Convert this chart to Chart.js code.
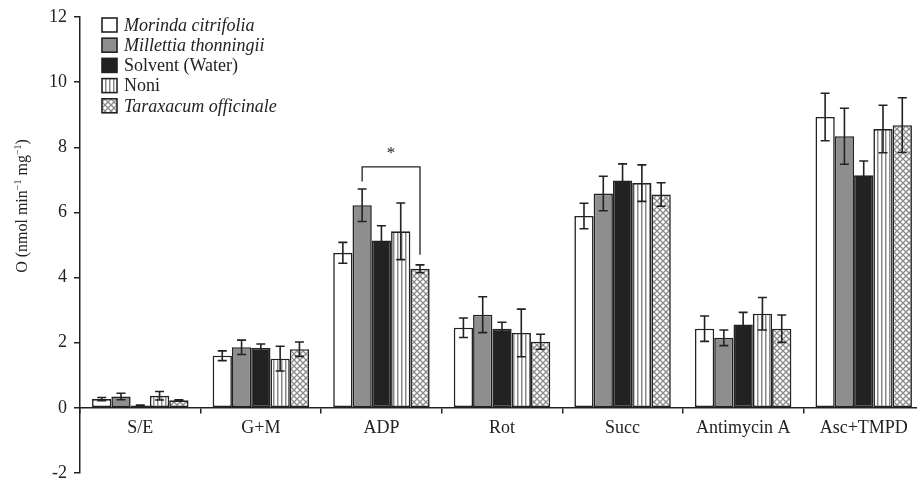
<!DOCTYPE html>
<html>
<head>
<meta charset="utf-8">
<script src="https://cdn.jsdelivr.net/npm/chart.js@4/dist/chart.umd.min.js"></script>
<style>
  html, body { margin: 0; padding: 0; background: #fff; overflow: hidden; }
  #wrap { width: 917px; height: 480px; overflow: hidden; }
</style>
</head>
<body>
<div id="wrap"><canvas id="oxChart" width="924" height="480"></canvas></div>
<script>
// categories and series (O2 consumption, nmol min-1 mg-1)
const categories = ['S/E', 'G+M', 'ADP', 'Rot', 'Succ', 'Antimycin A', 'Asc+TMPD']
const seriesNames = ['Morinda citrifolia', 'Millettia thonningii', 'Solvent (Water)', 'Noni', 'Taraxacum officinale']
const italicNames = [true, true, false, false, true]

const morinda   = [0.27, 1.60, 4.76, 2.46, 5.89, 2.43, 8.93]
const millettia = [0.35, 1.86, 6.22, 2.86, 6.58, 2.15, 8.34]
const solvent   = [0.07, 1.84, 5.14, 2.43, 6.98, 2.56, 7.14]
const noni      = [0.37, 1.51, 5.42, 2.30, 6.90, 2.89, 8.56]
const taraxacum = [0.23, 1.80, 4.27, 2.03, 6.55, 2.43, 8.68]

// error (+/-)
const morindaErr   = [0.05, 0.15, 0.32, 0.30, 0.39, 0.39, 0.73]
const millettiaErr = [0.10, 0.22, 0.50, 0.55, 0.53, 0.24, 0.86]
const solventErr   = [0.02, 0.12, 0.45, 0.20, 0.51, 0.37, 0.44]
const noniErr      = [0.13, 0.38, 0.87, 0.73, 0.56, 0.50, 0.73]
const taraxacumErr = [0.02, 0.22, 0.12, 0.23, 0.36, 0.42, 0.84]

const yTicks = [-2, 0, 2, 4, 6, 8, 10, 12]

// significance bracket on ADP between Millettia and Taraxacum
const bracket = { category: 2, from: 1, to: 4, top: 7.4, leftEnd: 6.95, rightEnd: 4.7, label: '*' }

const ink = '#222'
const serif = '"Liberation Serif", "Times New Roman", serif'

function stripePattern() {
  const c = document.createElement('canvas')
  c.width = 4; c.height = 4
  const g = c.getContext('2d')
  g.fillStyle = '#fff'; g.fillRect(0, 0, 4, 4)
  g.fillStyle = '#8a8a8a'; g.fillRect(1, 0, 1.5, 4)
  return g.createPattern(c, 'repeat')
}

function hatchPattern() {
  const s = 6
  const c = document.createElement('canvas')
  c.width = s; c.height = s
  const g = c.getContext('2d')
  g.fillStyle = '#fff'; g.fillRect(0, 0, s, s)
  g.strokeStyle = '#8a8a8a'; g.lineWidth = 1.3
  g.beginPath()
  g.moveTo(0, 0); g.lineTo(s, s)
  g.moveTo(s, 0); g.lineTo(0, s)
  g.stroke()
  return g.createPattern(c, 'repeat')
}

const fills = ['#ffffff', '#8e8e8e', '#222222', stripePattern(), hatchPattern()]
const values = [morinda, millettia, solvent, noni, taraxacum]
const errors = [morindaErr, millettiaErr, solventErr, noniErr, taraxacumErr]

const errorBars = {
  id: 'errorBars',
  afterDatasetsDraw(chart) {
    const ctx = chart.ctx
    const y = chart.scales.y
    ctx.save()
    ctx.strokeStyle = ink
    ctx.lineWidth = 1.6
    chart.data.datasets.forEach((ds, i) => {
      const meta = chart.getDatasetMeta(i)
      meta.data.forEach((bar, j) => {
        const v = ds.data[j], e = errors[i][j]
        const top = y.getPixelForValue(v + e)
        const bot = y.getPixelForValue(v - e)
        ctx.beginPath()
        ctx.moveTo(bar.x, top); ctx.lineTo(bar.x, bot)
        ctx.moveTo(bar.x - 4.5, top); ctx.lineTo(bar.x + 4.5, top)
        ctx.moveTo(bar.x - 4.5, bot); ctx.lineTo(bar.x + 4.5, bot)
        ctx.stroke()
      })
    })
    // bracket
    const a = chart.getDatasetMeta(bracket.from).data[bracket.category]
    const b = chart.getDatasetMeta(bracket.to).data[bracket.category]
    const yt = y.getPixelForValue(bracket.top)
    ctx.lineWidth = 1.3
    ctx.beginPath()
    ctx.moveTo(a.x, y.getPixelForValue(bracket.leftEnd))
    ctx.lineTo(a.x, yt)
    ctx.lineTo(b.x, yt)
    ctx.lineTo(b.x, y.getPixelForValue(bracket.rightEnd))
    ctx.stroke()
    ctx.fillStyle = ink
    ctx.font = '17px ' + serif
    ctx.textAlign = 'center'
    ctx.textBaseline = 'middle'
    ctx.fillText(bracket.label, (a.x + b.x) / 2, yt - 13)
    ctx.restore()
  }
}

const legendAndTitle = {
  id: 'legendAndTitle',
  afterDraw(chart) {
    const ctx = chart.ctx
    ctx.save()
    // legend
    seriesNames.forEach((name, i) => {
      const cy = 25 + i * 20.2
      ctx.fillStyle = fills[i]
      ctx.fillRect(102, cy - 7, 15, 14)
      ctx.strokeStyle = ink
      ctx.lineWidth = 1.6
      ctx.strokeRect(102, cy - 7, 15, 14)
      ctx.fillStyle = ink
      ctx.font = (italicNames[i] ? 'italic ' : '') + '18px ' + serif
      ctx.textAlign = 'left'
      ctx.textBaseline = 'middle'
      ctx.fillText(name, 124, cy + 1)
    })
    // y axis title with superscripts
    const parts = [['O (nmol min', false], ['\u22121', true], [' mg', false], ['\u22121', true], [')', false]]
    const big = '16px ' + serif, small = '10px ' + serif
    let total = 0
    parts.forEach(p => { ctx.font = p[1] ? small : big; total += ctx.measureText(p[0]).width })
    ctx.translate(22, 206)
    ctx.rotate(-Math.PI / 2)
    ctx.fillStyle = ink
    ctx.textBaseline = 'alphabetic'
    ctx.textAlign = 'left'
    let x = -total / 2
    parts.forEach(p => {
      ctx.font = p[1] ? small : big
      ctx.fillText(p[0], x, p[1] ? -1 : 5)
      x += ctx.measureText(p[0]).width
    })
    ctx.restore()
  }
}

new Chart(document.getElementById('oxChart').getContext('2d'), {
  type: 'bar',
  data: {
    labels: categories,
    datasets: seriesNames.map((name, i) => ({
      label: name,
      data: values[i],
      backgroundColor: fills[i],
      borderColor: ink,
      borderWidth: 1.6,
      borderSkipped: false,
      categoryPercentage: 0.8,
      barPercentage: 1.0
    }))
  },
  options: {
    responsive: false,
    animation: false,
    devicePixelRatio: 1,
    layout: { padding: { top: 17, bottom: 7, left: 0, right: 0 } },
    plugins: { legend: { display: false }, tooltip: { enabled: false } },
    scales: {
      x: {
        position: { y: 0 },
        grid: { drawOnChartArea: false, tickLength: 5, color: ink, lineWidth: 1.5, offset: true },
        border: { color: ink, width: 1.5 },
        ticks: { color: ink, font: { family: serif, size: 18 }, padding: 5, maxRotation: 0 }
      },
      y: {
        min: -2,
        max: 12,
        afterFit(scale) {
          scale.width = 80
          scale.paddingTop = 0
          scale.paddingBottom = 0
        },
        afterBuildTicks(scale) { scale.ticks = yTicks.map(v => ({ value: v })) },
        grid: { drawOnChartArea: false, tickLength: 6, color: ink, lineWidth: 1.5 },
        border: { color: ink, width: 1.5 },
        ticks: { color: ink, font: { family: serif, size: 18, lineHeight: 1 }, padding: 7 }
      }
    }
  },
  plugins: [errorBars, legendAndTitle]
})
</script>
</body>
</html>
